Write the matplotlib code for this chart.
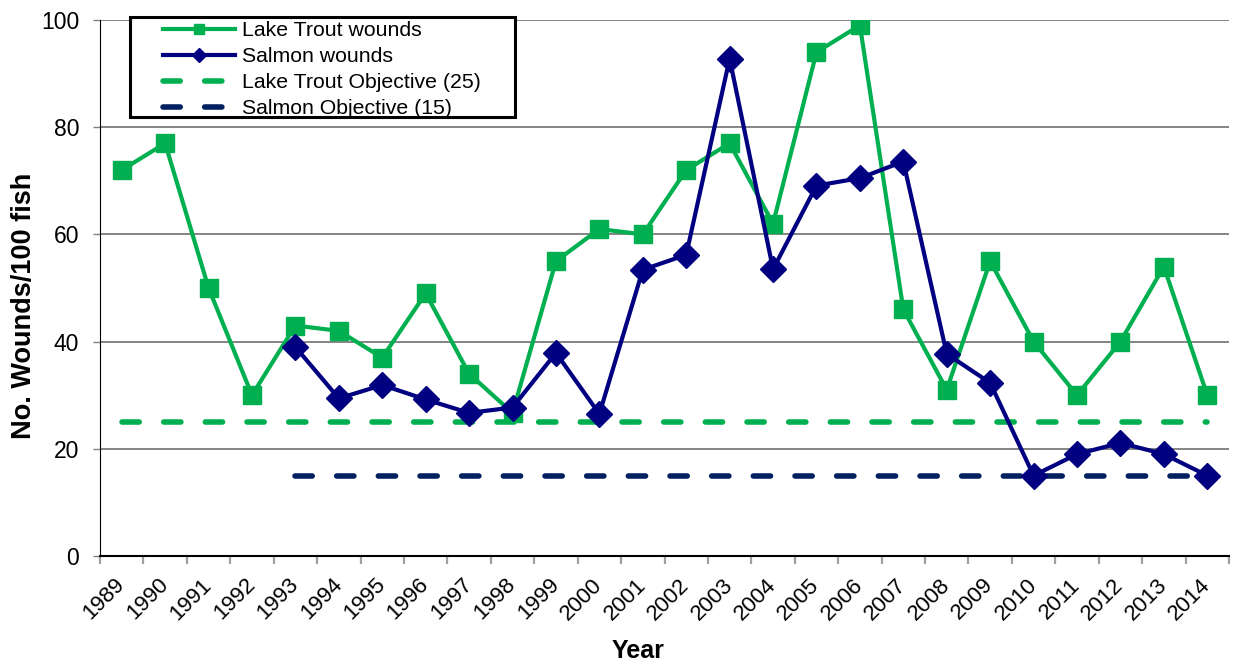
import numpy as np
import matplotlib.pyplot as plt
from matplotlib.patches import Rectangle

plt.rcParams['font.family'] = ['Liberation Sans', 'DejaVu Sans']

years = list(range(1989, 2015))
trout_wounds = [72, 77, 50, 30, 43, 42, 37, 49, 34, 26.7, 55, 61, 60, 72, 77, 62,
                94, 99, 46, 31, 55, 40, 30, 40, 54, 30]
salmon_years = list(range(1993, 2015))
salmon_wounds = [39, 29.4, 31.9, 29.2, 26.7, 27.7, 37.9, 26.5, 53.4, 56.2, 92.8, 53.5,
                 69.1, 70.5, 73.6, 37.7, 32.3, 15, 19, 21.1, 19, 15]
trout_objective = 25
salmon_objective = 15

green = '#00B050'
navy = '#000080'
dark_blue = '#002060'

W, H = 1233, 665
x_trout = np.arange(len(years))
x_salmon = np.array([years.index(y) for y in salmon_years])

fig = plt.figure(figsize=(W / 100, H / 100), dpi=100)
ax = fig.add_axes([100 / W, 1 - 556 / H, 1129 / W, 536 / H])

ax.plot(x_trout, trout_wounds, color=green, lw=3, marker='s', ms=12.5,
        label='Lake Trout wounds', zorder=4)
ax.plot(x_salmon, salmon_wounds, color=navy, lw=3, marker='D', ms=13,
        label='Salmon wounds', zorder=5)
ax.plot(x_trout, [trout_objective] * len(x_trout), color=green, lw=4,
        ls=(0, (3.1, 4.4)), dash_capstyle='round', zorder=3,
        label='Lake Trout Objective (25)')
ax.plot(x_salmon, [salmon_objective] * len(x_salmon), color=dark_blue, lw=4,
        ls=(0, (3.1, 4.4)), dash_capstyle='round', zorder=3,
        label='Salmon Objective (15)')

ax.set_xlim(-0.5, len(years) - 0.5)
ax.set_ylim(0, 100)
ax.set_yticks(range(0, 101, 20))
ax.yaxis.grid(True, color='#707070', lw=1.2)
ax.set_axisbelow(True)

ax.set_xticks(x_trout)
ax.set_xticklabels([str(y) for y in years], rotation=45, ha='right', va='center',
                   rotation_mode='anchor', fontsize=16)
ax.set_xticks(np.arange(-0.5, len(years)), minor=True)
ax.tick_params(axis='x', which='major', length=0, pad=18.5)
ax.tick_params(axis='x', which='minor', length=5.5, color='#A0A0A0', width=1.6)
ax.tick_params(axis='y', length=5, width=1, labelsize=16.5, color='#808080', pad=10)

for s in ['top', 'right']:
    ax.spines[s].set_visible(False)
ax.spines['left'].set_color('black')
ax.spines['bottom'].set_color('black')
ax.spines['bottom'].set_linewidth(1.5)

ax.set_xlabel('Year', fontsize=18, fontweight='bold')
ax.xaxis.label.set_va('center')
ax.xaxis.set_label_coords((638 - 100) / 1129, -(651 - 556) / 536)
ax.set_ylabel('No. Wounds/100 fish', fontsize=19.5, fontweight='bold')
ax.yaxis.label.set_va('center')
ax.yaxis.set_label_coords(-(100 - 24) / 1129, (556 - 306) / 536)

# legend box drawn by hand, entries placed inside it
box = Rectangle((130 / W, 1 - 117 / H), 385 / W, 100 / H,
                transform=fig.transFigure, facecolor='white',
                edgecolor='black', lw=2.2, zorder=6, clip_on=False)
ax.add_patch(box)
leg = ax.legend(loc='upper left', bbox_to_anchor=(163 / W, 1 - 21 / H),
                bbox_transform=fig.transFigure, fontsize=15.3, frameon=False,
                handlelength=3.4, borderpad=0, borderaxespad=0,
                labelspacing=0.33, handletextpad=0.33, markerscale=0.55)
leg.set_zorder(7)

fig.savefig('out.png', dpi=100)
